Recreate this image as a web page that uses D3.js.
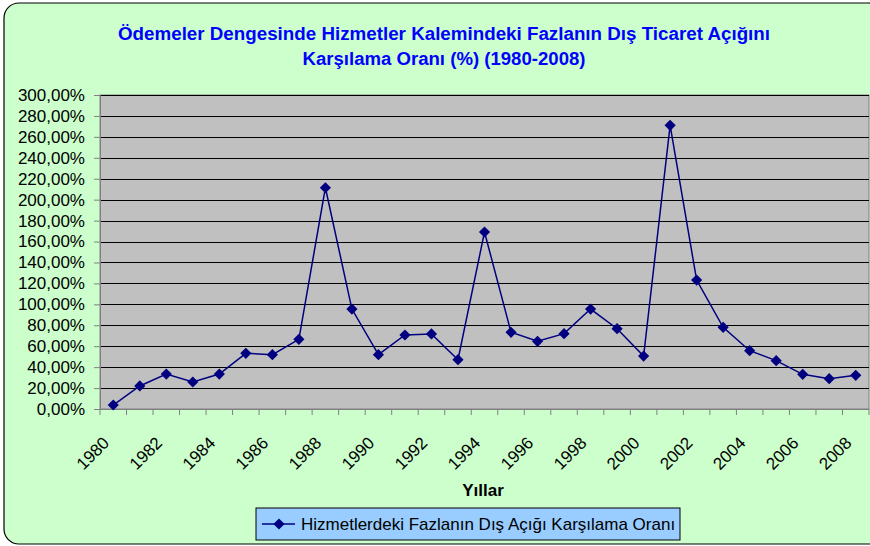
<!DOCTYPE html>
<html>
<head>
<meta charset="utf-8">
<script src="https://cdn.jsdelivr.net/npm/d3@7"></script>
<style>
  html, body { margin: 0; padding: 0; background: #fff; }
  svg { display: block; font-family: "Liberation Sans", Arial, sans-serif; }
</style>
</head>
<body>
<svg id="chart" width="870" height="546"></svg>
<script>
const years = d3.range(1980, 2009);
const ratios = [
  3.8, 22.0, 33.4, 25.8, 33.4, 53.2, 51.9, 66.6, 211.4, 95.5,
  51.9, 70.7, 71.7, 47.1, 169.1, 73.3, 64.7, 72.0, 95.5, 76.7,
  50.6, 271.0, 123.2, 78.0, 55.7, 46.2, 33.1, 29.0, 32.2
];
const yTicks = d3.range(0, 301, 20);
const titleLines = [
  "Ödemeler Dengesinde Hizmetler Kalemindeki Fazlanın Dış Ticaret Açığını",
  "Karşılama Oranı (%) (1980-2008)"
];
const xTitle = "Yıllar";
const seriesName = "Hizmetlerdeki Fazlanın Dış Açığı Karşılama Oranı";

const svg = d3.select("#chart");
const plot = { left: 100, right: 869, top: 95, bottom: 409 };

// outer chart area
svg.append("rect")
  .attr("x", 4).attr("y", 3)
  .attr("width", 880).attr("height", 541)
  .attr("rx", 15).attr("ry", 15)
  .attr("fill", "#CCFFCC")
  .attr("stroke", "#000").attr("stroke-width", 1.2);

// title
svg.append("g").selectAll("text")
  .data(titleLines)
  .join("text")
  .attr("x", 444)
  .attr("y", (d, i) => 40 + i * 25)
  .attr("text-anchor", "middle")
  .attr("font-size", 18)
  .attr("font-weight", "bold")
  .attr("fill", "#0000FF")
  .attr("textLength", (d, i) => i === 0 ? 652 : 283)
  .attr("lengthAdjust", "spacingAndGlyphs")
  .text(d => d);

const x = d3.scaleBand()
  .domain(years)
  .range([plot.left, plot.right]);

const y = d3.scaleLinear()
  .domain([0, 300])
  .range([plot.bottom, plot.top]);

// plot area
svg.append("rect")
  .attr("x", plot.left).attr("y", plot.top)
  .attr("width", plot.right - plot.left)
  .attr("height", plot.bottom - plot.top)
  .attr("fill", "#C0C0C0")
  .attr("stroke", "#808080");

// gridlines
svg.append("g")
  .selectAll("line")
  .data(yTicks.filter(d => d > 0))
  .join("line")
  .attr("x1", plot.left).attr("x2", plot.right)
  .attr("y1", d => Math.round(y(d)) + 0.5)
  .attr("y2", d => Math.round(y(d)) + 0.5)
  .attr("stroke", "#000")
  .attr("stroke-width", 1);

// y axis
const yAxis = svg.append("g")
  .attr("transform", `translate(${plot.left},0)`)
  .call(d3.axisLeft(y)
    .tickValues(yTicks)
    .tickSize(6)
    .tickPadding(9)
    .tickFormat(d => d3.format(".2f")(d).replace(".", ",") + "%"));
yAxis.select(".domain").attr("stroke", "#808080");
yAxis.selectAll(".tick line").attr("stroke", "#808080");
yAxis.selectAll(".tick text")
  .attr("font-size", 17)
  .attr("fill", "#000")
  .attr("font-family", "Liberation Sans, Arial, sans-serif");

// x axis: ticks at category boundaries
const xAxis = svg.append("g");
xAxis.append("line")
  .attr("x1", plot.left).attr("x2", plot.right)
  .attr("y1", plot.bottom + 0.5).attr("y2", plot.bottom + 0.5)
  .attr("stroke", "#808080");
xAxis.selectAll(".xtick")
  .data(years.concat([null]))
  .join("line")
  .attr("class", "xtick")
  .attr("x1", d => d === null ? plot.right : x(d))
  .attr("x2", d => d === null ? plot.right : x(d))
  .attr("y1", plot.bottom).attr("y2", plot.bottom + 6)
  .attr("stroke", "#808080");

xAxis.selectAll(".xlabel")
  .data(years.filter(d => d % 2 === 0))
  .join("text")
  .attr("class", "xlabel")
  .attr("font-size", 17)
  .attr("text-anchor", "end")
  .attr("transform", d => {
    const cx = x(d) + x.bandwidth() / 2 - 3;
    return `translate(${cx},${plot.bottom + 35}) rotate(-45)`;
  })
  .text(d => d);

svg.append("text")
  .attr("x", 483).attr("y", 496)
  .attr("text-anchor", "middle")
  .attr("font-size", 17)
  .attr("font-weight", "bold")
  .text(xTitle);

// series
const cx = d => x(d) + x.bandwidth() / 2;
const line = d3.line()
  .x((d, i) => cx(years[i]))
  .y(d => y(d));

svg.append("path")
  .datum(ratios)
  .attr("d", line)
  .attr("fill", "none")
  .attr("stroke", "#000080")
  .attr("stroke-width", 1.5);

const diamond = d3.symbol().type(d3.symbolDiamond2).size(80);
svg.append("g")
  .selectAll("path")
  .data(ratios)
  .join("path")
  .attr("d", diamond)
  .attr("transform", (d, i) => `translate(${cx(years[i])},${y(d)})`)
  .attr("fill", "#000080");

// legend
const legend = svg.append("g").attr("transform", "translate(256,508)");
legend.append("rect")
  .attr("width", 424).attr("height", 32)
  .attr("fill", "#99CCFF")
  .attr("stroke", "#000");
legend.append("line")
  .attr("x1", 6).attr("x2", 39)
  .attr("y1", 16).attr("y2", 16)
  .attr("stroke", "#000080").attr("stroke-width", 1.5);
legend.append("path")
  .attr("d", diamond)
  .attr("transform", "translate(23,16)")
  .attr("fill", "#000080");
legend.append("text")
  .attr("x", 45).attr("y", 22)
  .attr("font-size", 17)
  .text(seriesName);
</script>
</body>
</html>
